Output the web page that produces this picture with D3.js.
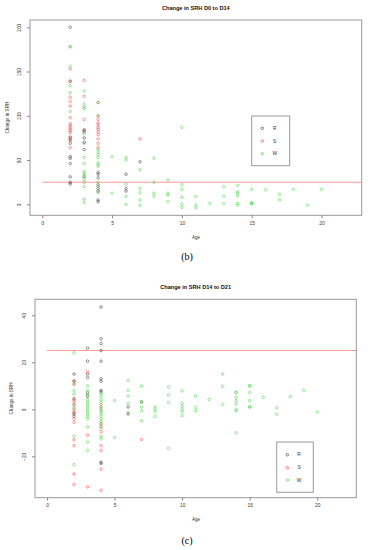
<!DOCTYPE html>
<html><head><meta charset="utf-8">
<script src="https://cdn.jsdelivr.net/npm/d3@7"></script>
<style>body{margin:0;background:#fff}svg{display:block}</style>
</head><body>
<svg id="c" width="368" height="550"></svg>
<script>
const groups = ["R","S","W"];
const xTicks = [0,5,10,15,20];
const yTicksB = [0,50,100,150,200];
const yTicksC = [-20,0,20,40];
const threshold = 25;

const b_R = [[2,200],[2,139],[2,76],[2,73],[2,69],[2,54],[2,52],[2,46],[2,31],[2,25],[2,23],
[3,84],[3,82],[3,75],[3,70],[3,62],[3,31],
[4,36],[4,34],[4,30],[4,22],[4,18],[4,15],[4,5],[4,3],
[6,34],[6,18],[6,15],[7,48]];
const b_S = [[2,153],[2,139],[2,121],[2,116],[2,111],[2,98],[2,91],[2,89],[2,87],[2,85],[2,83],[2,81],[2,75],[2,72],[2,64],
[3,140],[3,122],[3,96],[3,84],
[4,115],[4,100],[4,96],[4,92],[4,90],[4,87],[4,85],[4,82],[4,79],[4,74],[4,69],[4,64],
[7,74]];
const b_W = [[2,178],[2,178],[2,156],[2,134],[2,126],[2,105],
[3,128],[3,113],[3,110],[3,108],[3,80],[3,69],[3,53],[3,46],[3,37],[3,35],[3,33],[3,28],[3,25],[3,20],[3,6],[3,2],
[4,115],[4,100],[4,62],[4,59],[4,56],[4,53],[4,47],[4,45],[4,43],[4,25],[4,20],[4,13],
[5,54],[5,12.5],
[6,53],[6,50],[6,23],[6,9],[6,0],
[7,39],[7,18],[7,13],[7,5],[7,-1],
[8,52],[8,25],[8,12.5],[8,9],
[9,27.5],[9,12.5],[9,10.5],[9,3],
[10,87],[10,22],[10,17],[10,8],[10,0],[10,-3.5],
[11,9],[11,-1],[11,-4],
[12,1],
[13,20],[13,9],[13,1],
[14,21.5],[14,14],[14,12.5],[14,9.5],[14,1],[14,-1],
[15,17],[15,1],[15,1],[15,1.5],
[16,16.5],[17,11.5],[17,5],[18,17],[19,-1],[20,17]];

const c_R = [[2,15],[2,12],[2,4.5],[2,-2],[2,-3],
[3,26],[3,20.5],[3,15],[3,13.5],[3,7],[3,5.5],
[4,43.5],[4,30],[4,28],[4,25],[4,20.5],[4,13],[4,12],[4,8],[4,7.5],[4,-22.5],[4,-23],
[6,1],[6,-2],[7,3.2]];
const c_S = [[2,12],[2,10.5],[2,4],[2,3],[2,2],[2,0.5],[2,-1],[2,-1.5],[2,-4],[2,-5.5],[2,-13],[2,-15.5],[2,-27.5],[2,-32],
[3,16],[3,-11],[3,-33],
[4,2],[4,0.5],[4,-6],[4,-7.5],[4,-9.5],[4,-15.5],[4,-17.5],[4,-25.5],[4,-34.5],
[7,-12.8]];
const c_W = [[2,24],[2,11],[2,8],[2,6.5],[2,1.8],[2,0],[2,-11.5],[2,-23.5],
[3,10],[3,8],[3,6],[3,4],[3,3],[3,2],[3,1],[3,0],[3,-1],[3,-2],[3,-3],[3,-4],[3,-7.5],[3,-14],[3,-17.5],
[4,6.5],[4,5.5],[4,4],[4,3],[4,1],[4,-0.5],[4,-1],[4,-2],[4,-3],[4,-4],[4,-5],[4,-6.5],[4,-8],[4,-11.5],[4,-12.5],
[5,3.7],[5,-12],
[6,12.3],[6,8.1],[6,5.8],[6,2.5],[6,-1.3],
[7,9.9],[7,3],[7,1],[7,-0.6],[7,-4.9],
[8,1],[8,0],[8,-1],[8,-3],
[9,9.6],[9,6.1],[9,2.9],[9,-16.6],
[10,7.8],[10,2.5],[10,1.2],[10,0],[10,-1],[10,-2.7],
[11,5.7],[11,0.8],[11,-0.7],
[12,4.2],
[13,15],[13,9.8],[13,2.1],
[14,7.2],[14,7.2],[14,5.1],[14,3.7],[14,2.3],[14,0],[14,-0.7],[14,-10],
[15,10],[15,10],[15,7.1],[15,3.7],[15,1],[15,1],
[16,5.1],[17,0.7],[17,-2.1],[18,5.4],[19,8.1],[20,-1.1]];

const colors = {R:"#333333", S:"#ff3b3b", W:"#3fd23f"};
const svg = d3.select("#c");

function panel(o){
  const g = svg.append("g");
  const x = d3.scaleLinear().domain(o.xd).range([o.l, o.r]);
  const y = d3.scaleLinear().domain(o.yd).range([o.b, o.t]);
  // title
  g.append("text").attr("x",(o.l+o.r)/2).attr("y",o.titleY).attr("text-anchor","middle")
    .attr("font-family","Liberation Sans, Arial, sans-serif").attr("font-weight","bold").attr("font-size",5.6)
    .attr("fill","#111").text(o.title);
  // threshold line
  g.append("line").attr("x1",x(0)).attr("x2",o.r).attr("y1",y(threshold)).attr("y2",y(threshold))
    .attr("stroke","#ff9a9a").attr("stroke-width",1.1);
  // points
  const sets = [["R",o.R],["S",o.S],["W",o.W]];
  sets.forEach(([k,arr])=>{
    g.selectAll(null).data(arr).enter().append("circle")
      .attr("cx",d=>x(d[0])).attr("cy",d=>y(d[1])).attr("r",1.3)
      .attr("fill","none").attr("stroke",colors[k]).attr("stroke-width",0.6).attr("stroke-opacity",0.85);
  });
  // box
  g.append("rect").attr("x",o.l).attr("y",o.t).attr("width",o.r-o.l).attr("height",o.b-o.t)
    .attr("fill","none").attr("stroke","#999").attr("stroke-width",1);
  // x axis
  const xa = g.append("g").attr("transform",`translate(0,${o.b})`)
    .call(d3.axisBottom(x).tickValues(xTicks).tickSize(3).tickPadding(3).tickFormat(d3.format("d")));
  xa.select(".domain").remove();
  xa.selectAll("line").attr("stroke","#888");
  xa.selectAll("text").attr("font-family","Liberation Sans, Arial, sans-serif").attr("font-size",4.8).attr("fill","#333");
  // y axis
  const ya = g.append("g").attr("transform",`translate(${o.l},0)`)
    .call(d3.axisLeft(y).tickValues(o.yt).tickSize(3).tickPadding(0).tickFormat(d3.format("d")));
  ya.select(".domain").remove();
  ya.selectAll("line").attr("stroke","#888");
  ya.selectAll("text").attr("font-family","Liberation Sans, Arial, sans-serif").attr("font-size",4.8).attr("fill","#333")
    .attr("text-anchor","middle").attr("dy",null).attr("x",0).attr("y",0)
    .attr("transform",function(d){ return `translate(${o.tickLabX - o.l},0) rotate(-90)`; });
  // axis titles
  g.append("text").attr("x",o.ageX).attr("y",o.ageY).attr("text-anchor","middle")
    .attr("font-family","Liberation Sans, Arial, sans-serif").attr("font-size",4.6).attr("fill","#333").text("Age");
  g.append("text").attr("transform",`translate(${o.ylabX},${(o.t+o.b)/2}) rotate(-90)`).attr("text-anchor","middle")
    .attr("font-family","Liberation Sans, Arial, sans-serif").attr("font-size",4.6).attr("fill","#333").text("Change in SRH");
  // legend
  const L = o.leg;
  g.append("rect").attr("x",L.x0).attr("y",L.y0).attr("width",L.x1-L.x0).attr("height",L.y1-L.y0)
    .attr("fill","#fff").attr("stroke","#999").attr("stroke-width",1);
  groups.forEach((k,i)=>{
    const yy = L.ys[i];
    g.append("circle").attr("cx",L.sx).attr("cy",yy).attr("r",1.3).attr("fill","none")
      .attr("stroke",colors[k]).attr("stroke-width",0.6);
    g.append("text").attr("x",L.tx).attr("y",yy).attr("dy","0.35em").attr("text-anchor","middle")
      .attr("font-family","Liberation Sans, Arial, sans-serif").attr("font-size",4.8).attr("fill","#333").text(k);
  });
  // panel letter
  g.append("text").attr("x",o.letX).attr("y",o.letY).attr("text-anchor","middle")
    .attr("font-family","Liberation Serif, Times New Roman, serif").attr("font-size",10).attr("fill","#000")
    .text(o.letter);
}

panel({title:"Change in SRH D0 to D14", titleY:10, l:30, r:361.7, t:20, b:215.3,
  xd:[-0.88,22.88], yd:[-12.4,208.2], yt:yTicksB, tickLabX:21, R:b_R, S:b_S, W:b_W,
  ageX:196, ageY:238.5, ylabX:8.5,
  leg:{x0:251.7,x1:289.7,y0:116,y1:165.7,ys:[128.3,141,153.7],sx:262.3,tx:274.7},
  letter:"(b)", letX:187, letY:260});

panel({title:"Change in SRH D14 to D21", titleY:288.5, l:35, r:356.3, t:299.3, b:497.7,
  xd:[-0.89,22.89], yd:[-37.6,46.8], yt:yTicksC, tickLabX:26, R:c_R, S:c_S, W:c_W,
  ageX:196, ageY:520.5, ylabX:12.5,
  leg:{x0:276.7,x1:313.3,y0:442,y1:492.3,ys:[454.7,467.7,480],sx:287.3,tx:299},
  letter:"(c)", letX:187, letY:544});
</script>
</body></html>
